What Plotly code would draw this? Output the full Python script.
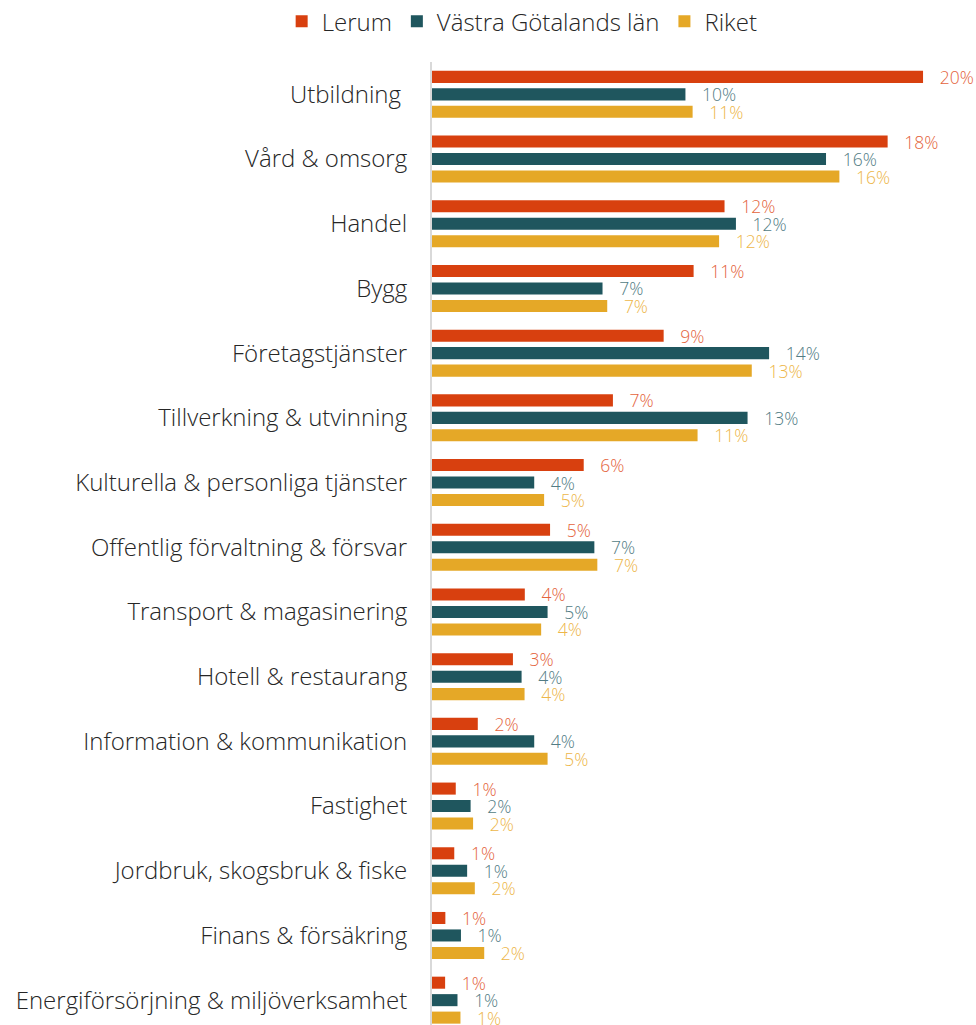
import plotly.graph_objects as go

# Sector shares of employment (%), by area
categories = [
    "Utbildning\u00a0",
    "Vård & omsorg",
    "Handel",
    "Bygg",
    "Företagstjänster",
    "Tillverkning & utvinning",
    "Kulturella & personliga tjänster",
    "Offentlig förvaltning & försvar",
    "Transport & magasinering",
    "Hotell & restaurang",
    "Information & kommunikation",
    "Fastighet",
    "Jordbruk, skogsbruk & fiske",
    "Finans & försäkring",
    "Energiförsörjning & miljöverksamhet",
]

lerum = [19.84, 18.41, 11.82, 10.57, 9.36, 7.31, 6.13, 4.77, 3.75, 3.27, 1.85, 0.96, 0.90, 0.54, 0.53]
vastra_gotaland = [10.24, 15.92, 12.28, 6.89, 13.62, 12.75, 4.13, 6.56, 4.67, 3.62, 4.13, 1.56, 1.42, 1.17, 1.03]
riket = [10.53, 16.46, 11.60, 7.08, 12.92, 10.73, 4.53, 6.68, 4.41, 3.74, 4.67, 1.66, 1.73, 2.11, 1.15]

series = [
    ("Lerum", lerum, "#D8400F", "#E4633C"),
    ("Västra Götalands län", vastra_gotaland, "#1F565E", "#527C84"),
    ("Riket", riket, "#E5A827", "#EDB649"),
]

FONT = "Open Sans"

fig = go.Figure()
for name, values, bar_color, label_color in series:
    fig.add_trace(
        go.Bar(
            name=name,
            y=categories,
            x=values,
            orientation="h",
            marker=dict(color=bar_color, line=dict(width=0)),
            texttemplate="\u00a0\u00a0\u00a0%{x:.0f}%",
            textposition="outside",
            constraintext="none",
            cliponaxis=False,
            textfont=dict(family=FONT, size=17.5, color=label_color, weight=300),
            hoverinfo="skip",
        )
    )

fig.update_layout(
    width=976,
    height=1025,
    margin=dict(l=432, r=0, t=62, b=0),
    paper_bgcolor="white",
    plot_bgcolor="white",
    barmode="group",
    bargap=0.19,
    bargroupgap=0.31,
    font=dict(family=FONT, color="#262626"),
    legend=dict(
        orientation="h",
        xref="container",
        yref="container",
        x=0.535,
        xanchor="center",
        y=0.979,
        yanchor="middle",
        font=dict(family=FONT, size=24, color="#262626", weight=300),
        itemclick=False,
        traceorder="normal",
    ),
    showlegend=True,
)

fig.update_xaxes(
    range=[0, 21.98],
    showgrid=False,
    zeroline=False,
    showticklabels=False,
    showline=False,
)
fig.update_yaxes(
    type="category",
    categoryorder="array",
    categoryarray=categories,
    range=[14.384, -0.5],
    showgrid=False,
    zeroline=False,
    showline=True,
    linecolor="#D9D9D9",
    linewidth=2,
    ticks="",
    ticklabelstandoff=18,
    tickfont=dict(family=FONT, size=24, color="#262626", weight=300),
)

fig.write_html("out.html")
